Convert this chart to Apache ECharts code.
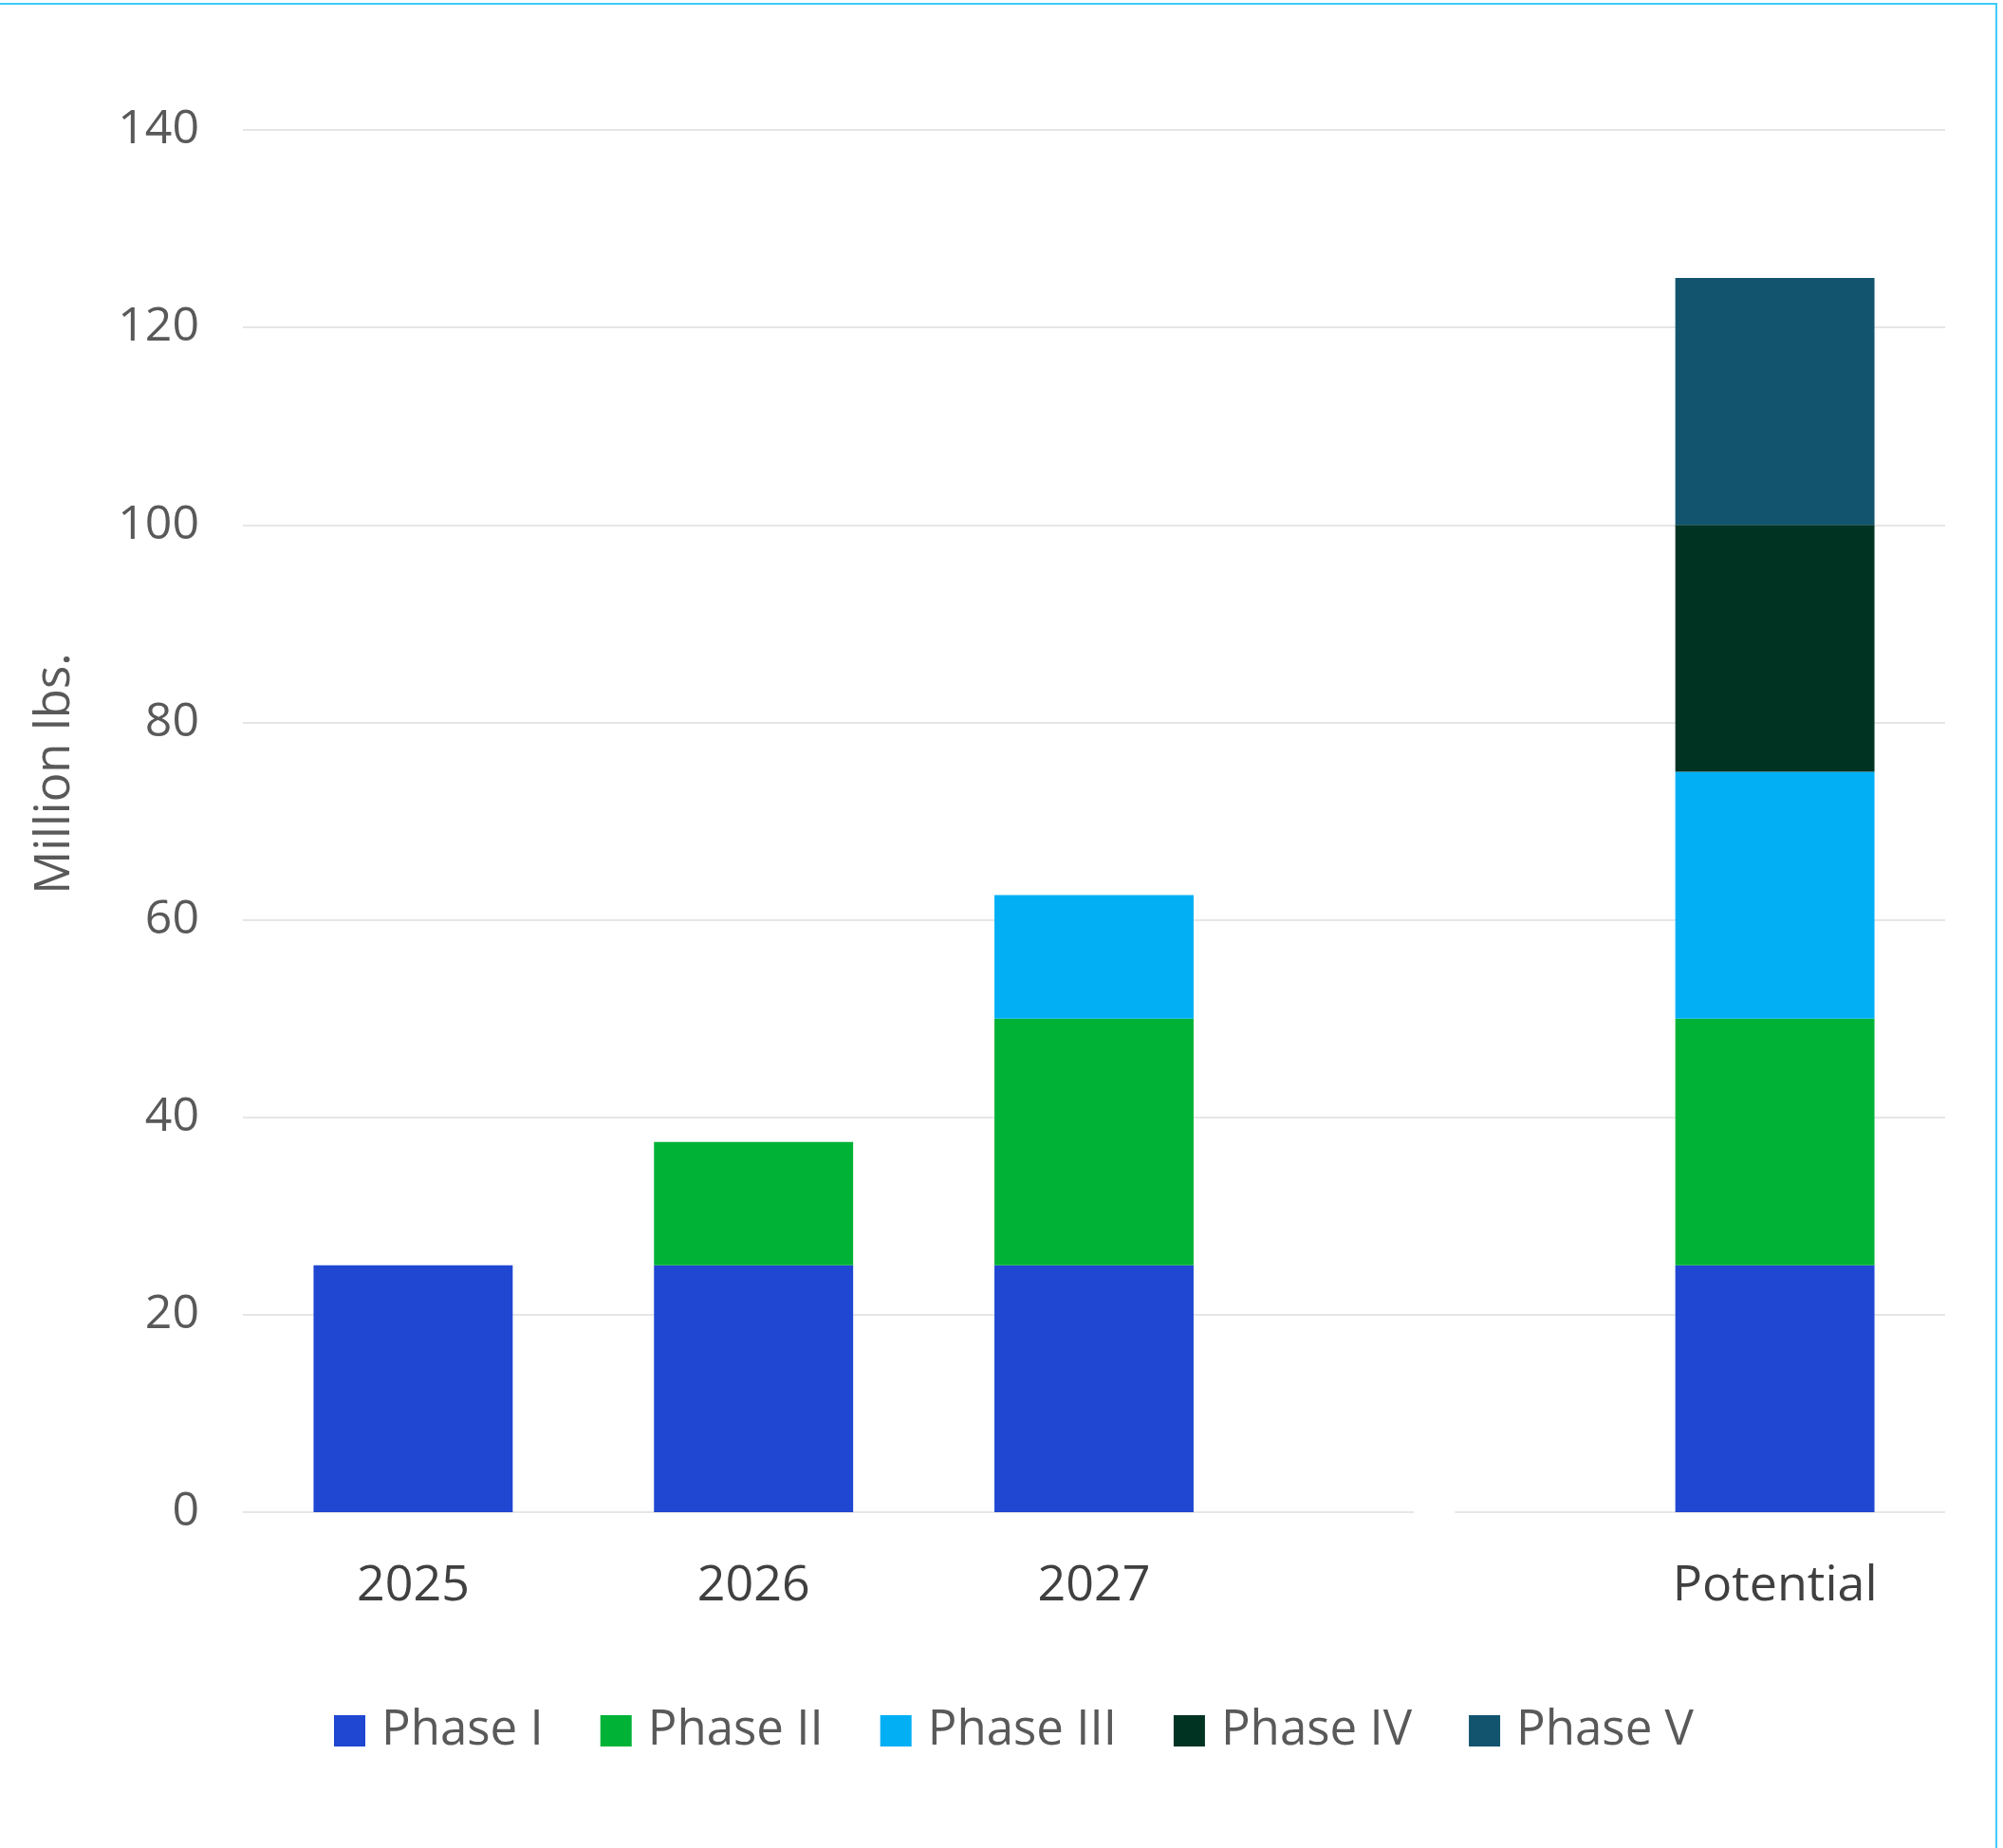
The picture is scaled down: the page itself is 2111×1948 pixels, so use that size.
<!DOCTYPE html>
<html>
<head>
<meta charset="utf-8">
<script src="https://cdn.jsdelivr.net/npm/echarts@6/dist/echarts.min.js"></script>
<style>
html,body{margin:0;padding:0;background:#fff;}
#chart{position:absolute;left:0;top:0;width:2111px;height:1948px;}
#frame{position:absolute;left:0;top:3px;width:2103px;height:1960px;border-top:2px solid #3ccbfb;border-right:2px solid #3ccbfb;pointer-events:none;}
</style>
</head>
<body>
<div id="chart"></div>
<div id="frame"></div>
<script>
const categories = ['2025', '2026', '2027', '', 'Potential'];
const phaseI   = [25, 25, 25, null, 25];
const phaseII  = [null, 12.5, 25, null, 25];
const phaseIII = [null, null, 12.5, null, 25];
const phaseIV  = [null, null, null, null, 25];
const phaseV   = [null, null, null, null, 25];
const yTicks = [0, 20, 40, 60, 80, 100, 120, 140];
const seriesNames = ['Phase I', 'Phase II', 'Phase III', 'Phase IV', 'Phase V'];
const seriesColors = ['#1f47d2', '#00b336', '#02aff5', '#013323', '#12546e'];
// baseline drawn in category units (with a break inside the empty category)
const baselineSegments = [[-0.5, 2.94], [3.06, 4.5]];

const FONT = '"Open Sans", "Noto Sans", sans-serif';
const chart = echarts.init(document.getElementById('chart'));
const values = [phaseI, phaseII, phaseIII, phaseIV, phaseV];

const barSeries = seriesNames.map((name, i) => ({
  name: name,
  type: 'bar',
  stack: 'total',
  barWidth: '58.5%',
  itemStyle: { color: seriesColors[i] },
  data: values[i],
  z: 3
}));

const baselineData = [];
baselineSegments.forEach((seg, k) => {
  if (k > 0) baselineData.push('-');
  baselineData.push([seg[0], 0], [seg[1], 0]);
});

chart.setOption({
  animation: false,
  backgroundColor: 'transparent',
  textStyle: { fontFamily: FONT },
  grid: { left: 256, right: 61, top: 137, bottom: 354, containLabel: false },
  legend: {
    data: seriesNames,
    bottom: 93,
    left: 347,
    itemWidth: 33,
    itemHeight: 33,
    itemGap: 60,
    icon: 'rect',
    textStyle: { fontSize: 51, color: '#595959', fontFamily: FONT, padding: [0, 0, 0, 12] },
    selectedMode: false
  },
  xAxis: [{
    type: 'category',
    data: categories,
    axisLine: { show: false },
    axisTick: { show: false },
    axisLabel: { fontSize: 52, color: '#404040', margin: 52, fontFamily: FONT }
  }, {
    type: 'value',
    min: -0.5,
    max: 4.5,
    show: false
  }],
  yAxis: {
    type: 'value',
    min: 0,
    max: 140,
    interval: 20,
    name: 'Million lbs.',
    nameLocation: 'middle',
    nameGap: 172,
    nameTextStyle: { fontSize: 51, color: '#595959', fontFamily: FONT, padding: [0, 0, 0, 100] },
    axisLine: { show: false },
    axisTick: { show: false },
    axisLabel: {
      fontSize: 50, color: '#595959', margin: 46, fontFamily: FONT,
      formatter: v => yTicks.includes(v) ? String(v) : ''
    },
    splitLine: {
      lineStyle: {
        color: ['transparent', '#e6e6e6', '#e6e6e6', '#e6e6e6', '#e6e6e6', '#e6e6e6', '#e6e6e6', '#e6e6e6'],
        width: 2
      }
    }
  },
  series: barSeries.concat([{
    name: 'baseline',
    type: 'line',
    xAxisIndex: 1,
    yAxisIndex: 0,
    data: baselineData,
    symbol: 'none',
    silent: true,
    connectNulls: false,
    lineStyle: { color: '#e6e6e6', width: 2 },
    z: 1
  }])
});
</script>
</body>
</html>
